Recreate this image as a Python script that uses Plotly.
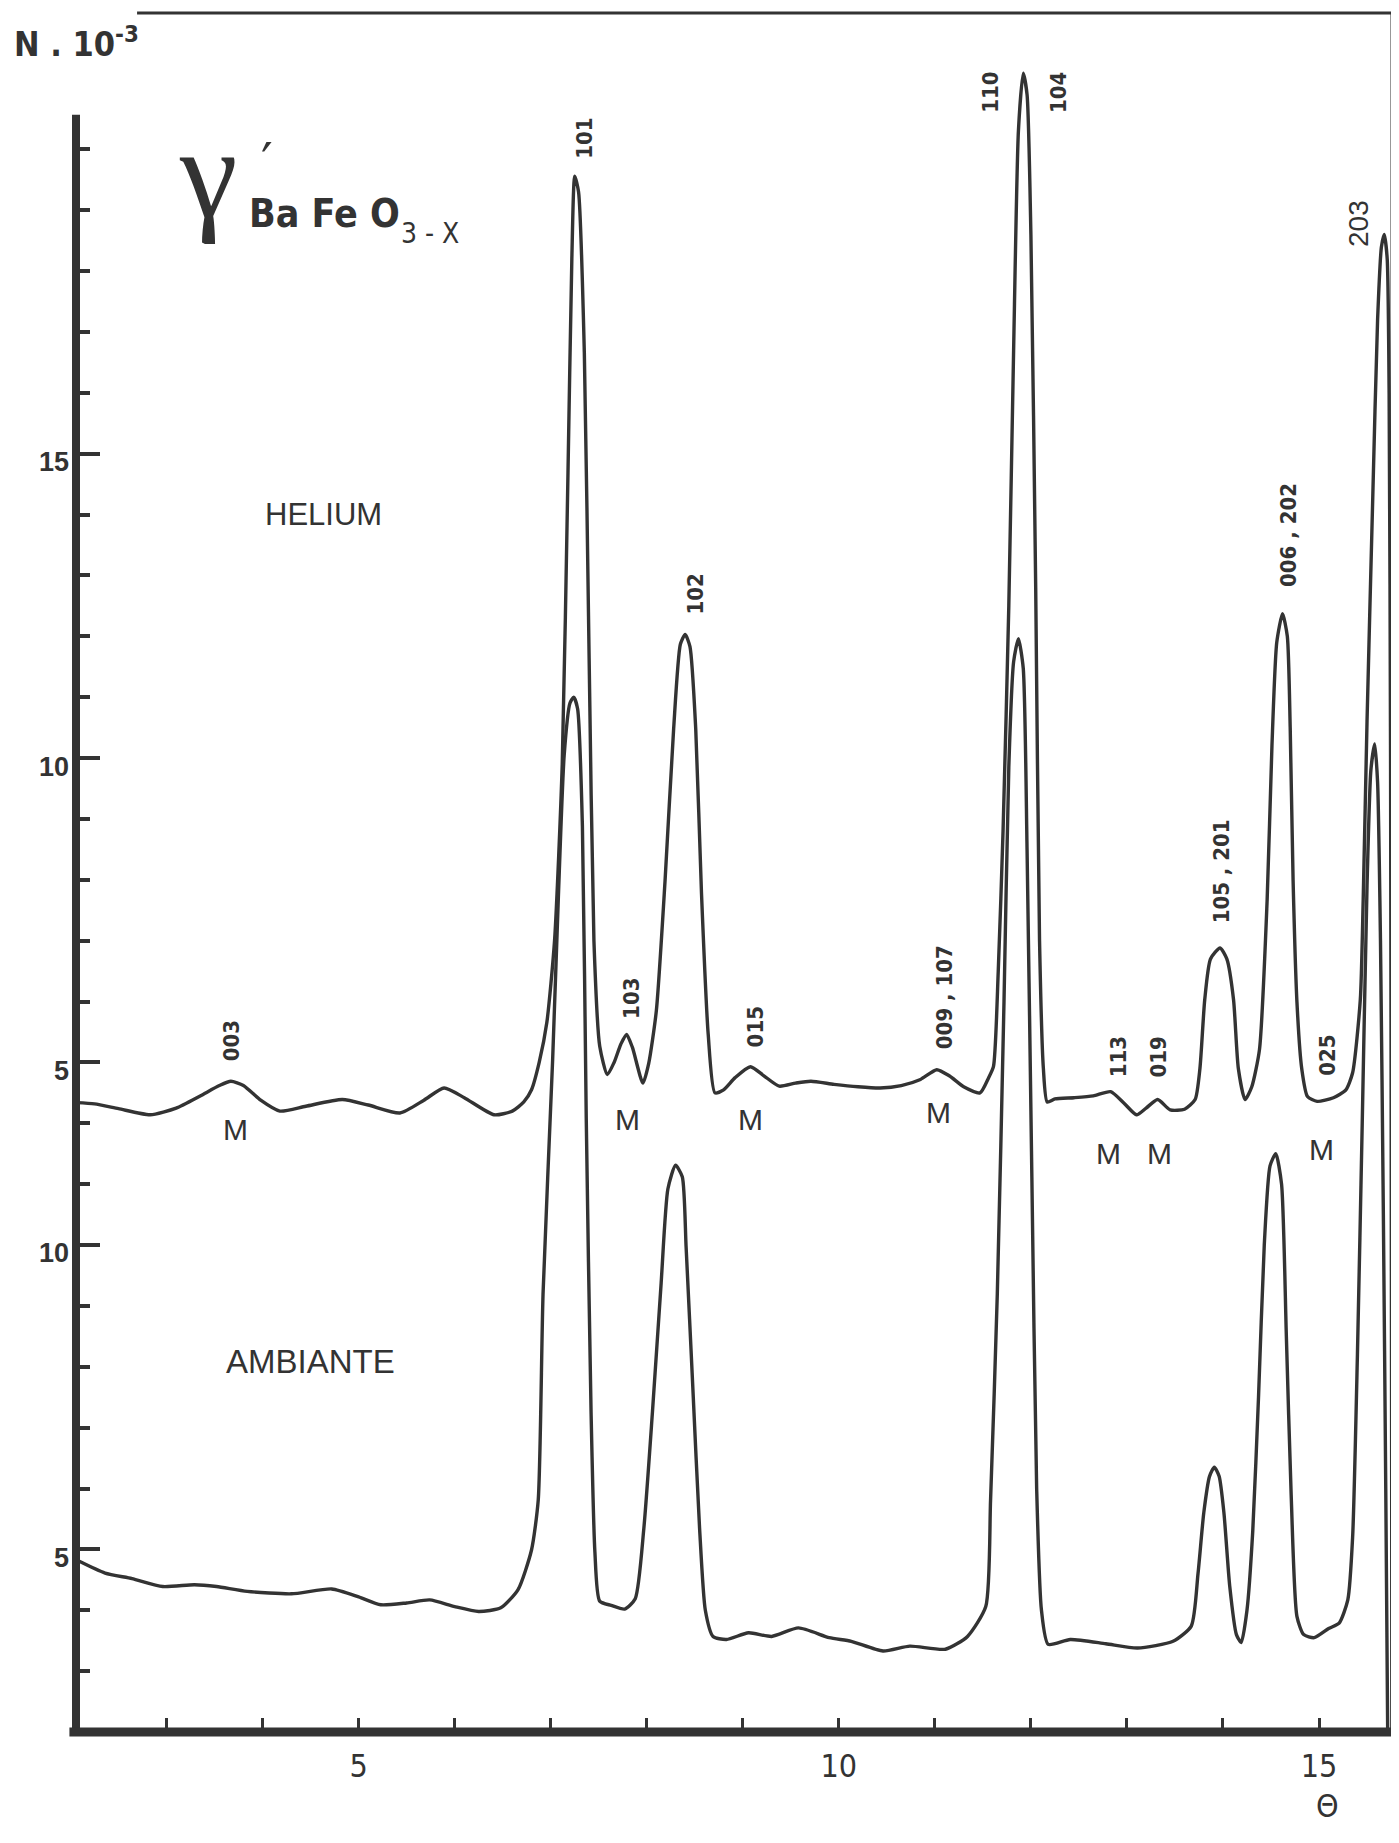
import plotly.graph_objects as go

# ---------------- data ----------------
# upper curve (HELIUM), counts N.10^-3 on the upper scale
helium_theta = [2.06, 2.25, 2.50, 2.83, 3.10, 3.35, 3.55, 3.67, 3.80, 3.98,
                4.18, 4.45, 4.83, 5.10, 5.43, 5.68, 5.89, 6.10, 6.41, 6.60,
                6.72, 6.80, 6.88, 6.96, 7.04, 7.12, 7.18, 7.22, 7.25, 7.29,
                7.35, 7.40, 7.45, 7.51, 7.59, 7.66, 7.73, 7.79, 7.85, 7.96,
                8.02, 8.10, 8.19, 8.28, 8.35, 8.40, 8.45, 8.51, 8.57, 8.64,
                8.71, 8.80, 8.92, 9.08, 9.22, 9.38, 9.55, 9.71, 9.95, 10.20,
                10.43, 10.65, 10.85, 11.02, 11.15, 11.30, 11.47, 11.56, 11.61, 11.66,
                11.71, 11.77, 11.82, 11.87, 11.92, 11.96, 12.00, 12.05, 12.09, 12.13,
                12.17, 12.25, 12.45, 12.65, 12.83, 12.97, 13.10, 13.20, 13.32, 13.45,
                13.60, 13.71, 13.76, 13.81, 13.87, 13.97, 14.04, 14.11, 14.16, 14.23,
                14.30, 14.38, 14.46, 14.51, 14.56, 14.62, 14.67, 14.70, 14.73, 14.77,
                14.82, 14.88, 14.98, 15.15, 15.28, 15.35, 15.43, 15.46, 15.50, 15.56,
                15.61, 15.65, 15.68, 15.71, 15.73, 15.745, 15.755, 15.76]
helium_counts = [4.34, 4.32, 4.24, 4.14, 4.25, 4.45, 4.62, 4.69, 4.62, 4.38,
                 4.20, 4.28, 4.39, 4.30, 4.17, 4.38, 4.58, 4.42, 4.14, 4.20,
                 4.35, 4.55, 5.00, 5.66, 7.00, 9.90, 14.70, 18.20, 19.56, 19.30,
                 16.66, 11.64, 7.00, 5.27, 4.80, 5.00, 5.30, 5.46, 5.25, 4.66,
                 4.98, 5.85, 7.97, 10.48, 11.87, 12.03, 11.83, 10.48, 7.78, 5.46,
                 4.50, 4.55, 4.75, 4.93, 4.78, 4.61, 4.66, 4.69, 4.64, 4.60,
                 4.58, 4.62, 4.72, 4.88, 4.78, 4.60, 4.50, 4.75, 4.93, 6.50,
                 8.80, 12.50, 16.70, 20.30, 21.25, 20.90, 18.60, 12.80, 7.00, 4.90,
                 4.35, 4.40, 4.42, 4.45, 4.52, 4.33, 4.14, 4.25, 4.39, 4.22,
                 4.23, 4.39, 4.90, 6.03, 6.70, 6.88, 6.70, 6.03, 4.90, 4.39,
                 4.60, 5.21, 7.67, 10.20, 11.90, 12.37, 12.00, 10.50, 8.00, 6.00,
                 4.90, 4.44, 4.36, 4.42, 4.55, 4.83, 6.03, 7.67, 10.60, 14.30,
                 17.20, 18.40, 18.60, 18.20, 16.00, 10.00, 0.00, -6.00]

# lower curve (AMBIANTE), counts N.10^-3 on the lower scale
ambiante_theta = [2.07, 2.36, 2.64, 2.96, 3.29, 3.52, 3.84, 4.30, 4.72, 5.00,
                  5.23, 5.50, 5.74, 6.00, 6.25, 6.48, 6.66, 6.80, 6.87, 6.92,
                  7.02, 7.08, 7.14, 7.20, 7.24, 7.28, 7.33, 7.37, 7.42, 7.46,
                  7.51, 7.63, 7.77, 7.88, 7.97, 8.06, 8.15, 8.22, 8.30, 8.37,
                  8.41, 8.48, 8.55, 8.61, 8.69, 8.83, 9.06, 9.30, 9.58, 9.90,
                  10.13, 10.46, 10.74, 11.11, 11.34, 11.53, 11.58, 11.65, 11.72, 11.77,
                  11.82, 11.87, 11.92, 11.96, 12.01, 12.06, 12.11, 12.18, 12.41, 12.78,
                  13.11, 13.48, 13.67, 13.74, 13.80, 13.86, 13.91, 13.96, 14.01, 14.07,
                  14.14, 14.19, 14.25, 14.31, 14.37, 14.43, 14.49, 14.55, 14.61, 14.66,
                  14.71, 14.77, 14.84, 14.95, 15.10, 15.21, 15.30, 15.35, 15.40, 15.45,
                  15.50, 15.54, 15.58, 15.61, 15.64, 15.67, 15.695, 15.715]
ambiante_counts = [4.82, 4.61, 4.52, 4.39, 4.42, 4.39, 4.31, 4.27, 4.35, 4.22,
                   4.09, 4.12, 4.17, 4.06, 3.98, 4.04, 4.34, 4.99, 5.81, 9.19,
                   13.04, 15.73, 18.04, 18.90, 19.00, 18.81, 16.88, 12.08, 7.27, 4.96,
                   4.15, 4.08, 4.02, 4.19, 5.35, 7.27, 9.38, 10.92, 11.31, 11.12,
                   9.96, 7.65, 5.35, 4.00, 3.57, 3.52, 3.63, 3.57, 3.71, 3.55,
                   3.49, 3.33, 3.41, 3.36, 3.57, 4.06, 5.81, 9.19, 14.00, 17.85,
                   19.58, 19.96, 19.48, 16.50, 11.12, 6.00, 4.00, 3.44, 3.52, 3.45,
                   3.38, 3.49, 3.74, 4.60, 5.60, 6.20, 6.35, 6.20, 5.60, 4.40,
                   3.60, 3.47, 4.00, 5.30, 7.50, 10.00, 11.30, 11.50, 11.00, 8.50,
                   5.90, 3.90, 3.60, 3.55, 3.70, 3.79, 4.17, 5.20, 8.20, 12.00,
                   15.90, 17.80, 18.23, 17.60, 15.00, 10.50, 6.00, 2.00]

# axis ticks
helium_tick_vals = [5, 10, 15]
helium_tick_text = ["5", "10", "15"]
helium_minor_vals = [6, 7, 8, 9, 11, 12, 13, 14, 16, 17, 18, 19, 20]
ambiante_tick_vals = [5, 10]
ambiante_tick_text = ["5", "10"]
ambiante_minor_vals = [3, 4, 6, 7, 8, 9, 11, 12]
theta_tick_vals = [5, 10, 15]
theta_tick_text = ["5", "10", "15"]
theta_minor_vals = [3, 4, 6, 7, 8, 9, 11, 12, 13, 14]

# reflection indices
hkl_labels = ["003", "101", "103", "102", "015", "009 , 107", "110", "104",
              "113", "019", "105 , 201", "006 , 202", "025"]
m_labels = ["M", "M", "M", "M", "M", "M", "M"]

# ---------------- layout helpers ----------------
INK = "#333333"
NARROW = "Liberation Sans Narrow, DejaVu Sans Condensed, Arial Narrow, sans-serif"
SANS = "Liberation Sans, Arial, sans-serif"

X_RANGE = [2.057, 15.76]
Y_RANGE = [-6.0, 22.24]
OFFSET = 8.0
Y2_RANGE = [Y_RANGE[0] + OFFSET, Y_RANGE[1] + OFFSET]

hkl_spots = [(3.68, 5.36), (7.35, 20.18), (7.84, 6.05), (8.51, 12.70), (9.13, 5.58),
             (11.10, 6.08), (11.58, 20.94), (12.28, 20.94), (12.92, 5.09),
             (13.33, 5.09), (13.98, 8.14), (14.68, 13.67), (15.08, 5.12)]
m_spots = [(3.72, 3.89), (7.80, 4.06), (9.08, 4.06), (11.04, 4.17),
           (12.81, 3.51), (13.34, 3.51), (15.03, 3.57)]

fig = go.Figure()
fig.add_trace(go.Scatter(x=helium_theta, y=helium_counts, mode="lines", yaxis="y",
                         line=dict(color=INK, width=3.4, shape="spline", smoothing=0.6),
                         hoverinfo="skip"))
fig.add_trace(go.Scatter(x=ambiante_theta, y=ambiante_counts, mode="lines", yaxis="y2",
                         line=dict(color=INK, width=3.4, shape="spline", smoothing=0.6),
                         hoverinfo="skip"))

ann = []
for txt, (xx, yy) in zip(hkl_labels, hkl_spots):
    ann.append(dict(x=xx, y=yy, xref="x", yref="y", text=txt, showarrow=False,
                    textangle=-90, font=dict(family=NARROW, size=22, color=INK, weight="bold")))
for txt, (xx, yy) in zip(m_labels, m_spots):
    ann.append(dict(x=xx, y=yy, xref="x", yref="y", text=txt, showarrow=False,
                    font=dict(family=SANS, size=30, color=INK)))
ann += [
    dict(x=15.41, y=18.78, xref="x", yref="y", text="203", showarrow=False, textangle=-90,
         font=dict(family=SANS, size=28, color=INK)),
    dict(x=4.63, y=14.0, xref="x", yref="y", text="HELIUM", showarrow=False,
         font=dict(family=SANS, size=31, color=INK)),
    dict(x=4.50, y=0.09, xref="x", yref="y", text="AMBIANTE", showarrow=False,
         font=dict(family=SANS, size=33, color=INK)),
    dict(x=3.43, y=19.62, xref="x", yref="y", text="γ", showarrow=False,
         font=dict(family="Liberation Serif, DejaVu Serif, serif", size=130, color=INK)),
    dict(x=4.05, y=19.80, xref="x", yref="y", text="′", showarrow=False,
         font=dict(family="DejaVu Sans, sans-serif", size=52, color=INK)),
    dict(x=3.84, y=18.95, xref="x", yref="y", text="Ba Fe O", showarrow=False,
         xanchor="left",
         font=dict(family=NARROW, size=39, color=INK, weight="bold")),
    dict(x=5.42, y=18.61, xref="x", yref="y", text="3 - X", showarrow=False,
         xanchor="left",
         font=dict(family=NARROW, size=28, color=INK)),
    dict(x=-0.0486, y=0.983, xref="paper", yref="paper", text="N . 10<sup>-3</sup>",
         showarrow=False, xanchor="left", yanchor="middle",
         font=dict(family=NARROW, size=34, color=INK, weight="bold")),
    dict(x=0.961, y=-0.055, xref="paper", yref="paper", text="Θ", showarrow=False,
         font=dict(family="DejaVu Sans Condensed, DejaVu Sans, sans-serif", size=32, color=INK)),
]

shapes = [
    # left axis
    dict(type="line", xref="paper", yref="y", x0=0, x1=0, y0=Y_RANGE[0] - 0.05, y1=20.57,
         line=dict(color=INK, width=8)),
    # bottom axis
    dict(type="line", xref="paper", yref="paper", x0=-0.005, x1=1.0, y0=0, y1=0,
         line=dict(color=INK, width=9)),
    # right frame
    dict(type="line", xref="paper", yref="paper", x0=1, x1=1, y0=0, y1=1,
         line=dict(color=INK, width=3)),
    # top frame
    dict(type="line", xref="paper", yref="paper", x0=0.0464, x1=1, y0=1, y1=1,
         line=dict(color=INK, width=3)),
]

tickfont_y = dict(family=SANS, size=27, color=INK, weight="bold")

fig.update_layout(
    width=1391, height=1827,
    margin=dict(l=68, r=7, t=5, b=103, pad=0),
    paper_bgcolor="white", plot_bgcolor="white",
    showlegend=False,
    annotations=ann, shapes=shapes,
    xaxis=dict(range=X_RANGE, showgrid=False, zeroline=False, showline=False,
               tickmode="array", tickvals=theta_tick_vals, ticktext=theta_tick_text,
               ticks="inside", ticklen=14, tickwidth=3, tickcolor=INK,
               ticklabelstandoff=12,
               tickfont=dict(family=NARROW, size=32, color=INK),
               minor=dict(tickmode="array", tickvals=theta_minor_vals, ticks="inside",
                          ticklen=14, tickwidth=3, tickcolor=INK, showgrid=False)),
    yaxis=dict(range=Y_RANGE, showgrid=False, zeroline=False, showline=False,
               tickmode="array", tickvals=helium_tick_vals, ticktext=helium_tick_text,
               ticks="inside", ticklen=24, tickwidth=4, tickcolor=INK,
               ticklabelstandoff=6, ticklabelshift=8, tickfont=tickfont_y,
               minor=dict(tickmode="array", tickvals=helium_minor_vals, ticks="inside",
                          ticklen=14, tickwidth=4, tickcolor=INK, showgrid=False)),
    yaxis2=dict(range=Y2_RANGE, overlaying="y", side="left", anchor="x",
                showgrid=False, zeroline=False, showline=False,
                tickmode="array", tickvals=ambiante_tick_vals, ticktext=ambiante_tick_text,
                ticks="inside", ticklen=24, tickwidth=4, tickcolor=INK,
                ticklabelstandoff=6, ticklabelshift=8, tickfont=tickfont_y,
                minor=dict(tickmode="array", tickvals=ambiante_minor_vals, ticks="inside",
                           ticklen=14, tickwidth=4, tickcolor=INK, showgrid=False)),
)

assert len(helium_theta) == len(helium_counts)
assert len(ambiante_theta) == len(ambiante_counts)

fig.write_html("out.html")
